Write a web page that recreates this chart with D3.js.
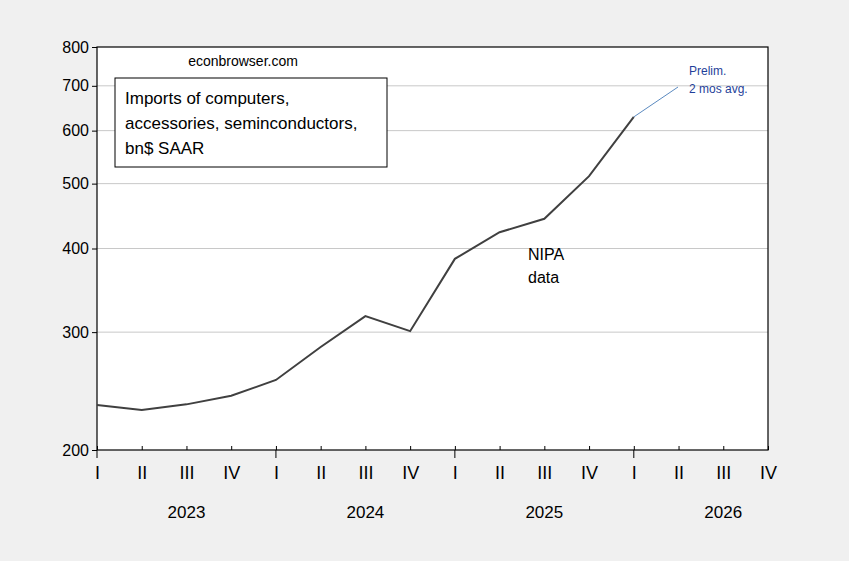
<!DOCTYPE html>
<html><head><meta charset="utf-8">
<script src="https://cdn.jsdelivr.net/npm/d3@7"></script>
<style>body{margin:0;background:#f0f0f0;font-family:Arial,"Liberation Sans",sans-serif}</style>
</head><body><svg id="c" width="849" height="561"></svg>
<script>
const quarters = ["I","II","III","IV","I","II","III","IV","I","II","III","IV","I","II","III","IV"];
const years = ["2023","2024","2025","2026"];
const values = [233.5,229.5,234,241,254.5,285,317,301,386,423,443,513,629];
const yTicks = [200,300,400,500,600,700,800];

const m = {left:97, right:768, top:47, bottom:450};
const svg = d3.select("#c");
const x = d3.scaleLinear().domain([0,15]).range([m.left,m.right]);
const y = d3.scaleLog().domain([200,800]).range([m.bottom,m.top]);

svg.append("rect").attr("x",m.left).attr("y",m.top).attr("width",m.right-m.left).attr("height",m.bottom-m.top).attr("fill","#fff");
svg.selectAll(".g").data(yTicks.slice(1,-1)).enter().append("line")
  .attr("x1",m.left).attr("x2",m.right).attr("y1",d=>y(d)).attr("y2",d=>y(d)).attr("stroke","#c8c8c8");

const ya = svg.append("g").attr("transform",`translate(${m.left},0)`)
  .call(d3.axisLeft(y).tickValues(yTicks).tickFormat(d3.format("d")).tickSize(5));
ya.selectAll("text").attr("font-size",16).attr("fill","#000").attr("font-family","Arial");
ya.select(".domain").remove();

const xa = svg.append("g").attr("transform",`translate(0,${m.bottom})`)
  .call(d3.axisBottom(x).tickValues(d3.range(16)).tickFormat(i=>quarters[i]).tickSize(-4).tickPadding(16));
xa.selectAll("text").attr("font-size",18).attr("fill","#000").attr("font-family","Arial");
xa.select(".domain").remove();
svg.append("g").selectAll("line").data(d3.range(16)).enter().append("line")
  .attr("x1",d=>x(d)).attr("x2",d=>x(d)).attr("y1",m.bottom).attr("y2",d=>m.bottom+(d%4===0?8:0)).attr("stroke","#000");
svg.append("g").selectAll("text").data(years).enter().append("text")
  .attr("x",(d,i)=>x(i*4+2)).attr("y",518).attr("text-anchor","middle").attr("font-size",17).text(d=>d);

svg.append("rect").attr("x",m.left).attr("y",m.top).attr("width",m.right-m.left).attr("height",m.bottom-m.top)
  .attr("fill","none").attr("stroke","#000").attr("stroke-width",1.2);

svg.append("path").datum(values).attr("fill","none").attr("stroke","#404040").attr("stroke-width",2)
  .attr("d",d3.line().x((d,i)=>x(i)).y(d=>y(d)));

svg.append("text").attr("x",243).attr("y",66).attr("text-anchor","middle").attr("font-size",14).text("econbrowser.com");
svg.append("rect").attr("x",115).attr("y",78).attr("width",272).attr("height",89).attr("fill","#fff").attr("stroke","#000");
["Imports of computers,","accessories, seminconductors,","bn$ SAAR"].forEach((t,i)=>
  svg.append("text").attr("x",125).attr("y",104+i*25).attr("font-size",17).text(t));
svg.append("text").attr("x",528).attr("y",260).attr("font-size",16).text("NIPA");
svg.append("text").attr("x",528).attr("y",283).attr("font-size",16).text("data");

svg.append("line").attr("x1",x(12)).attr("y1",y(values[12])).attr("x2",678).attr("y2",87).attr("stroke","#5b8ac0");
svg.append("text").attr("x",689).attr("y",75).attr("font-size",12).attr("fill","#1f3f9a").text("Prelim.");
svg.append("text").attr("x",689).attr("y",93).attr("font-size",12).attr("fill","#1f3f9a").text("2 mos avg.");
</script></body></html>
